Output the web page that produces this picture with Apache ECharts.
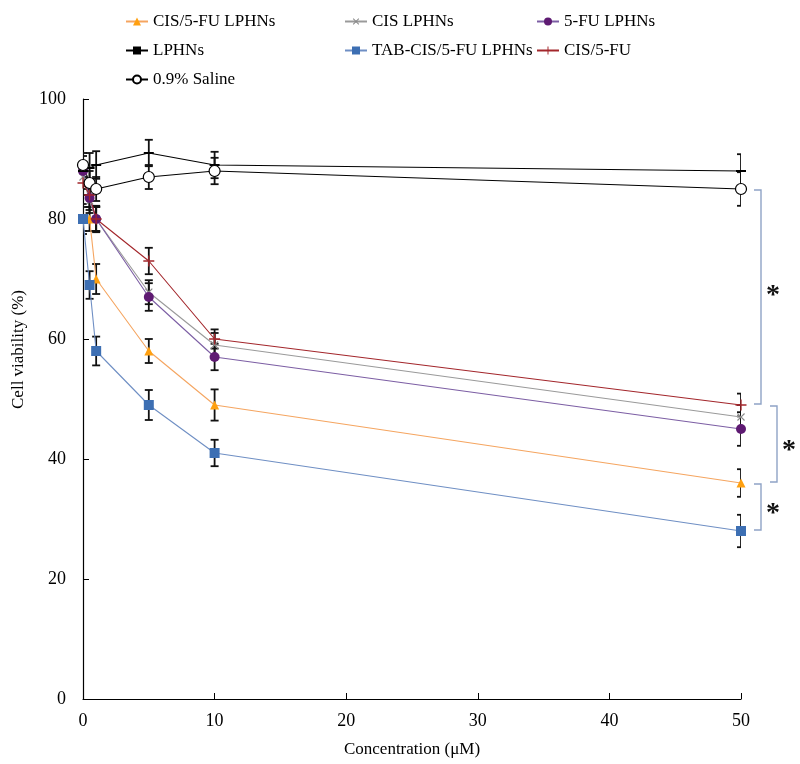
<!DOCTYPE html>
<html><head><meta charset="utf-8">
<script src="https://cdn.jsdelivr.net/npm/echarts@6/dist/echarts.min.js"></script>
<style>html,body{margin:0;padding:0;background:#fff}#c{width:800px;height:764px}</style>
</head><body><div id="c"></div>
<script>
// ---- data ----
const conc = [0, 0.5, 1, 5, 10, 50];
const xTicks = [0, 10, 20, 30, 40, 50];
const yTicks = [0, 20, 40, 60, 80, 100];

const cis5fuLphn = [80, 80, 70, 58, 49, 36];
const cis5fuLphnErr = [2, 2, 2.5, 2, 2.6, 2.3];
const cisLphn = [87, 83, 80, 67.8, 59, 47];
const cisLphnErr = [2, 2, 2, 2, 2, 2];
const fuLphn = [88, 83.5, 80, 67, 57, 45];
const fuLphnErr = [1.5, 2, 2, 2.3, 2.2, 2.8];
const lphn = [88, 88.5, 89, 91, 89, 88];
const lphnErr = [2.5, 2.5, 2.3, 2.2, 2.2, 2.8];
const tabLphn = [80, 69, 58, 49, 41, 28];
const tabLphnErr = [2.5, 2.3, 2.4, 2.5, 2.2, 2.7];
const cis5fu = [86, 84, 80, 73, 60, 49];
const cis5fuErr = [2, 2, 2.2, 2.2, 1.6, 1.9];
const saline = [89, 86, 85, 87, 88, 85];
const salineErr = [2, 2, 2, 2, 2.2, 2.8];

// significance brackets at the last concentration (top value, bottom value)
const bracketTop = [85, 49, 36];
const bracketBottom = [49, 36, 28];
const bracketLabels = ['*', '*', '*'];

// ---- chart ----
const FONT = 'Liberation Serif';
const plus = 'path://M4.4,0H5.6V4.4H10V5.6H5.6V10H4.4V5.6H0V4.4H4.4Z';
const dash = 'path://M0,0H10V1.6H0Z';

const seriesDefs = [
  {name:'CIS/5-FU LPHNs', v:cis5fuLphn, e:cis5fuLphnErr, symbol:'triangle', size:9, color:'#FFA010', line:'#F5A560'},
  {name:'CIS LPHNs', v:cisLphn, e:cisLphnErr, symbol:plus, size:10, rotate:45, color:'#8A8A8A', line:'#9A9A9A'},
  {name:'5-FU LPHNs', v:fuLphn, e:fuLphnErr, symbol:'circle', size:10, color:'#5E1A72', line:'#7C5EA4'},
  {name:'LPHNs', v:lphn, e:lphnErr, symbol:dash, size:[10,2], color:'#000', line:'#000'},
  {name:'TAB-CIS/5-FU LPHNs', v:tabLphn, e:tabLphnErr, symbol:'rect', size:10, color:'#3D6FB3', line:'#6F8FC4'},
  {name:'CIS/5-FU', v:cis5fu, e:cis5fuErr, symbol:plus, size:11, color:'#A3262B', line:'#A3262B'},
  {name:'0.9% Saline', v:saline, e:salineErr, symbol:'circle', size:11, color:'#fff', border:'#000', line:'#000'}
];

function errRender(params, api){
  const x = api.value(0), lo = api.value(1), hi = api.value(2);
  const pl = api.coord([x, lo]), ph = api.coord([x, hi]);
  const w = 4, st = {stroke:'#111', lineWidth:1.8};
  return {type:'group', children:[
    {type:'line', shape:{x1:pl[0],y1:pl[1],x2:ph[0],y2:ph[1]}, style:st},
    {type:'line', shape:{x1:pl[0]-w,y1:pl[1],x2:pl[0]+w,y2:pl[1]}, style:st},
    {type:'line', shape:{x1:ph[0]-w,y1:ph[1],x2:ph[0]+w,y2:ph[1]}, style:st}
  ]};
}

const series = [];
seriesDefs.forEach(d => {
  series.push({
    type:'custom', name:d.name + ' err', renderItem:errRender, clip:true, z:1,
    data: conc.map((x,i)=>[x, d.v[i]-d.e[i], d.v[i]+d.e[i]]), silent:true
  });
});
seriesDefs.forEach(d => {
  series.push({
    type:'line', name:d.name, data: conc.map((x,i)=>[x, d.v[i]]),
    symbol:d.symbol, symbolSize:d.size, symbolRotate:d.rotate||0, showAllSymbol:true,
    lineStyle:{color:d.line, width:1.1},
    itemStyle:{color:d.color, borderColor:d.border||d.color, borderWidth:d.border?1.2:0},
    z:3, animation:false, clip:false
  });
});

const bracketOffsets = [13, 29, 13];
series.push({
  type:'custom', name:'brackets', clip:false, silent:true, z:2,
  data: bracketTop.map((t,i)=>[conc[conc.length-1], t, bracketBottom[i], i]),
  renderItem:function(params, api){
    const x = api.value(0), t = api.value(1), b = api.value(2), i = api.value(3);
    const pt = api.coord([x, t]), pb = api.coord([x, b]);
    const x0 = pt[0] + bracketOffsets[i], w = 7;
    const dy = i === 0 ? -1 : 7;
    return {type:'group', children:[
      {type:'polyline', shape:{points:[[x0,pt[1]+1],[x0+w,pt[1]+1],[x0+w,pb[1]-1],[x0,pb[1]-1]]},
       style:{stroke:'#8FA3C6', lineWidth:1.4, fill:null}},
      {type:'text', x:x0+w+12, y:(pt[1]+pb[1])/2+dy,
       style:{text:bracketLabels[i], font:'bold 28px ' + FONT, fill:'#111', align:'center', verticalAlign:'middle'}}
    ]};
  }
});

const legendText = {fontFamily:FONT, fontSize:17, color:'#000'};
const mkLegend = (left, names) => ({
  orient:'vertical', left:left, top:8, itemGap:12, itemWidth:22, itemHeight:10,
  data:names, textStyle:legendText, selectedMode:false
});

const chart = echarts.init(document.getElementById('c'));
chart.setOption({
  animation:false,
  backgroundColor:'#fff',
  legend:[
    mkLegend(120, ['CIS/5-FU LPHNs','LPHNs','0.9% Saline']),
    mkLegend(339, ['CIS LPHNs','TAB-CIS/5-FU LPHNs']),
    mkLegend(531, ['5-FU LPHNs','CIS/5-FU'])
  ],
  graphic:[{
    type:'text', left:10, top:290, rotation:Math.PI/2,
    style:{text:'Cell viability (%)', font:'17px ' + FONT, fill:'#000'}
  }],
  grid:{left:83, right:59, top:99, bottom:65, containLabel:false},
  xAxis:{
    type:'value', min:xTicks[0], max:xTicks[xTicks.length-1], interval:xTicks[1]-xTicks[0],
    name:'Concentration (μM)', nameLocation:'middle', nameGap:42,
    nameTextStyle:{fontFamily:FONT, fontSize:17, color:'#000'},
    axisLine:{lineStyle:{color:'#000', width:1.2}},
    axisTick:{inside:true, length:6, lineStyle:{color:'#000'}},
    axisLabel:{fontFamily:FONT, fontSize:18, color:'#000', margin:13},
    splitLine:{show:false}
  },
  yAxis:{
    type:'value', min:yTicks[0], max:yTicks[yTicks.length-1], interval:yTicks[1]-yTicks[0],
    axisLine:{show:true, lineStyle:{color:'#000', width:1.2}},
    axisTick:{show:true, inside:true, length:6, lineStyle:{color:'#000'}},
    axisLabel:{fontFamily:FONT, fontSize:18, color:'#000', margin:17},
    splitLine:{show:false}
  },
  series:series
});
</script></body></html>
